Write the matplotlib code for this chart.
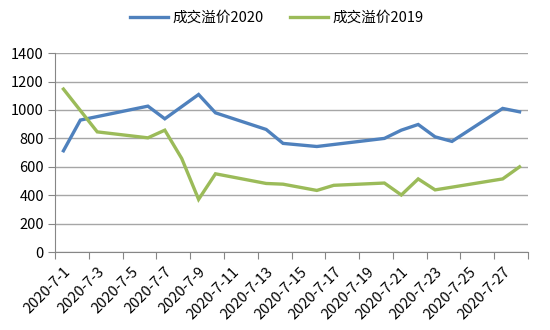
import datetime
import numpy as np
import matplotlib
matplotlib.use('Agg')
import matplotlib.pyplot as plt
import matplotlib.dates as mdates

plt.rcParams['font.family'] = ['Noto Sans CJK SC', 'DejaVu Sans']

# data (only the visible vertices)
dates_2020 = ['2020-07-01', '2020-07-02', '2020-07-06', '2020-07-07', '2020-07-09',
              '2020-07-10', '2020-07-13', '2020-07-14', '2020-07-16', '2020-07-20',
              '2020-07-21', '2020-07-22', '2020-07-23', '2020-07-24', '2020-07-27',
              '2020-07-28']
vals_2020 = [713, 929, 1027, 938, 1109, 980, 863, 765, 743, 800, 858, 898, 811, 779, 1011, 987]

dates_2019 = ['2020-07-01', '2020-07-03', '2020-07-06', '2020-07-07', '2020-07-08',
              '2020-07-09', '2020-07-10', '2020-07-13', '2020-07-14', '2020-07-16',
              '2020-07-17', '2020-07-20', '2020-07-21', '2020-07-22', '2020-07-23',
              '2020-07-24', '2020-07-27', '2020-07-28']
vals_2019 = [1147, 846, 804, 858, 659, 371, 551, 483, 478, 434, 470, 486, 402, 515, 438,
             457, 515, 600]

tick_labels = ['2020-7-1', '2020-7-3', '2020-7-5', '2020-7-7', '2020-7-9', '2020-7-11',
               '2020-7-13', '2020-7-15', '2020-7-17', '2020-7-19', '2020-7-21',
               '2020-7-23', '2020-7-25', '2020-7-27']
labels = ['成交溢价2020', '成交溢价2019']


def to_dt(s):
    return datetime.datetime.strptime(s, '%Y-%m-%d')


x20 = [to_dt(s) for s in dates_2020]
x19 = [to_dt(s) for s in dates_2019]
lab_pos = [to_dt(s.replace('-7-', '-07-').rsplit('-', 1)[0] + '-' + s.rsplit('-', 1)[1].zfill(2))
           for s in tick_labels]

fig = plt.figure(figsize=(5.5, 3.3), dpi=100)
ax = fig.add_axes([0.1, 0.236, 0.86, 0.603])

l1, = ax.plot(x20, vals_2020, color='#4F81BD', lw=2.4, solid_joinstyle='miter')
l2, = ax.plot(x19, vals_2019, color='#9BBB59', lw=2.4, solid_joinstyle='miter')

half = datetime.timedelta(hours=12)
start = to_dt('2020-07-01') - half
end = to_dt('2020-07-28') + half
ax.set_xlim(start, end)
ax.set_ylim(0, 1400)
ax.set_yticks(np.arange(0, 1401, 200))

# slot boundaries as tick marks, labels at slot centres
bounds = [start + datetime.timedelta(days=2 * i) for i in range(15)]
ax.set_xticks(bounds)
ax.set_xticklabels([])
ax.set_xticks(lab_pos, minor=True)
ax.set_xticklabels(tick_labels, minor=True, rotation=45, ha='right',
                   rotation_mode='anchor', fontsize=10.5)
ax.tick_params(axis='x', which='minor', length=0, pad=9)
ax.tick_params(axis='x', which='major', length=5, color='#868686', direction='out')
ax.tick_params(axis='y', length=5, color='#868686', labelsize=10.5, pad=3)

ax.grid(axis='y', color='#a6a6a6', lw=1)
ax.set_axisbelow(True)
for s in ['top', 'right']:
    ax.spines[s].set_visible(False)
for s in ['left', 'bottom']:
    ax.spines[s].set_color('#868686')

fig.legend([l1, l2], labels, loc='center', bbox_to_anchor=(277 / 550, 1 - 18 / 330),
           ncol=2, frameon=False, fontsize=10.5, handlelength=2.6, columnspacing=1.8,
           handletextpad=0.3)

fig.savefig('out.png', dpi=100)
